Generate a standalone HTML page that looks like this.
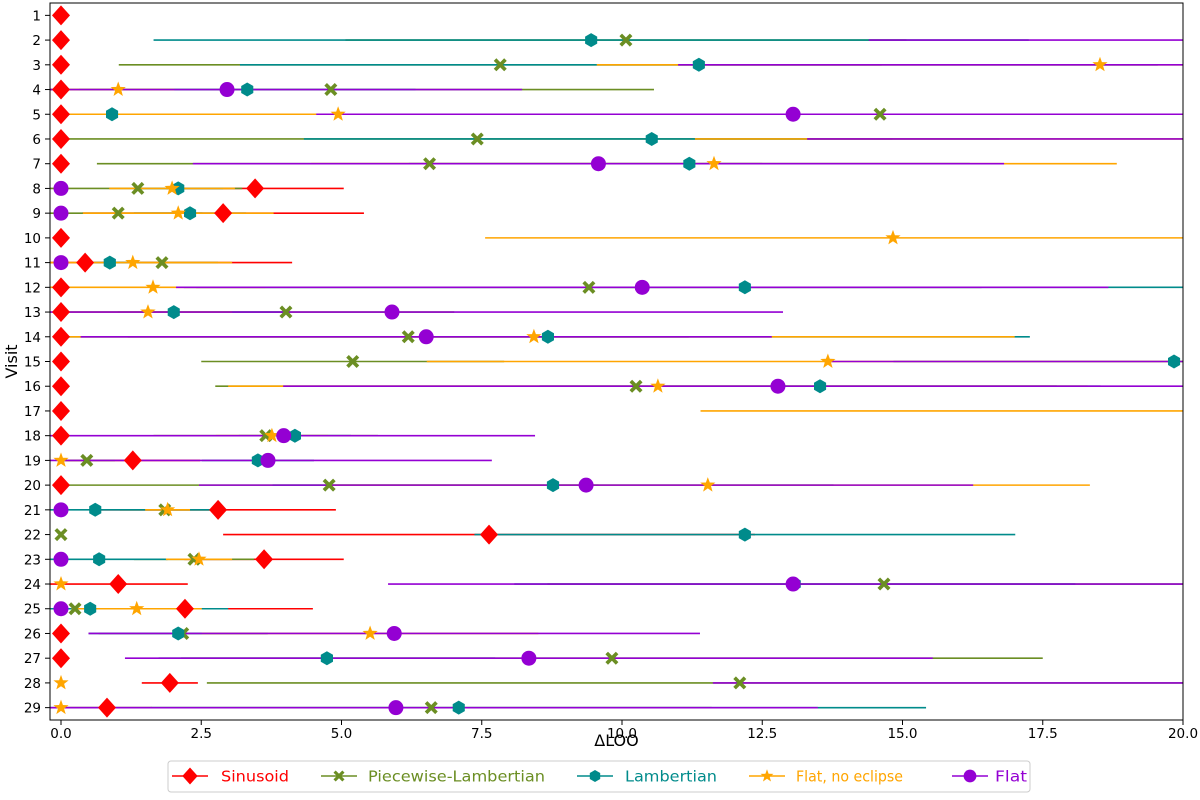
<!DOCTYPE html>
<html><head><meta charset="utf-8"><style>
body{margin:0;background:#fff;}
svg{font-family:"DejaVu Sans","Liberation Sans",sans-serif;}
</style></head><body>
<svg id="chart" width="1200" height="795" xmlns="http://www.w3.org/2000/svg"></svg>
<script>
const visits = [1,2,3,4,5,6,7,8,9,10,11,12,13,14,15,16,17,18,19,20,21,22,23,24,25,26,27,28,29];
const xTicks = [0,2.5,5,7.5,10,12.5,15,17.5,20];
const xTickLabels = ["0.0","2.5","5.0","7.5","10.0","12.5","15.0","17.5","20.0"];
const seriesNames = ["Sinusoid","Piecewise-Lambertian","Lambertian","Flat, no eclipse","Flat"];
const sinV = [0,0,0,0,0,0,0,3.46,2.89,0,0.43,0,0,0,0,0,0,0,1.28,0,2.8,7.63,3.62,1.02,2.21,0,0,1.94,0.82];
const sinE = [0,0,0,0,0,0,0,1.58,2.51,0,3.69,0,0,0,0,0,0,0,1.2,0,2.1,4.74,1.42,1.24,2.28,0,0,0.5,0.8];
const plV = [null,10.07,7.83,4.81,14.6,7.42,6.57,1.37,1.02,null,1.8,9.41,4.01,6.19,5.2,10.25,null,3.65,0.46,4.78,1.85,0,2.37,14.67,0.25,2.17,9.82,12.1,6.6];
const plE = [0,5,6.8,5.76,5,7.4,5.93,1.86,1.5,0,1,7,3,5,2.7,7.5,0,2,0.5,4.8,0.8,0,1.07,6,0.3,1.5,7.68,9.5,5];
const lamV = [null,9.45,11.37,3.32,0.91,10.53,11.2,2.09,2.3,null,0.87,12.19,2.01,8.68,19.84,13.53,null,4.17,3.51,8.77,0.61,12.19,0.68,13.08,0.52,2.09,4.74,null,7.09];
const lamE = [0,7.8,8.18,3,1,6.2,5,0.8,1,0,0.5,10,2,8.59,5,5,0,1,1,5,2.14,4.82,1.22,5,2.46,1.6,3,0,8.33];
const fneV = [null,25,18.52,1.02,4.94,20.5,11.64,1.98,2.09,14.83,1.28,1.64,1.55,8.43,13.67,10.64,22,3.76,0,11.53,1.9,null,2.46,0,1.35,5.51,null,0,0];
const fneE = [0,5,8.97,1,4.8,9.2,7.18,1.12,1.7,7.27,1.77,2,1.5,8.57,7.15,7.66,10.6,1,0,6.81,0.4,0,0.59,0,1.16,3,0,0,0];
const flatV = [null,24,25,2.96,13.05,25,9.58,0,0,null,0,10.36,5.9,6.51,25,12.78,null,3.97,3.69,9.36,0,null,0,13.05,0,5.94,8.34,25,5.97];
const flatE = [0,9.6,14,5.26,8.5,11.7,7.23,0,0,0,0,8.31,6.97,6.16,11.33,8.82,0,4.48,3.99,6.9,0,0,0,7.22,0,5.45,7.2,13.38,7.52];

const NS="http://www.w3.org/2000/svg";
const svg=document.getElementById('chart');
const L=50,R=1183,T=3,B=720;
const xMin=-0.196,xMax=20,yMin=0.5,yMax=29.5;
function X(v){return L+(v-xMin)/(xMax-xMin)*(R-L);}
function Y(v){return T+(v-yMin)/(yMax-yMin)*(B-T);}
function mk(tag,attrs,parent){const e=document.createElementNS(NS,tag);for(const k in attrs)e.setAttribute(k,attrs[k]);(parent||svg).appendChild(e);return e;}

const defs=mk('defs',{});
const cp=mk('clipPath',{id:'clip'},defs);
mk('rect',{x:L,y:T,width:R-L,height:B-T},cp);
const plot=mk('g',{'clip-path':'url(#clip)'});



function marker(kind,cx,cy,color,parent,sc){
  sc=sc||1;
  let e;
  if(kind==='diamond'){e=mk('polygon',{points:`${cx},${cy-10*sc} ${cx+9*sc},${cy} ${cx},${cy+10*sc} ${cx-9*sc},${cy}`,fill:color},parent);}
  else if(kind==='x'){const s=6.5*sc,w=2.6*sc;
    e=mk('path',{d:`M${cx-s} ${cy-s+w}L${cx-s+w} ${cy-s}L${cx} ${cy-w}L${cx+s-w} ${cy-s}L${cx+s} ${cy-s+w}L${cx+w} ${cy}L${cx+s} ${cy+s-w}L${cx+s-w} ${cy+s}L${cx} ${cy+w}L${cx-s+w} ${cy+s}L${cx-s} ${cy+s-w}L${cx-w} ${cy}Z`,fill:color},parent);}
  else if(kind==='hex'){let p=[];for(let i=0;i<6;i++){const a=Math.PI/3*i+Math.PI/6;p.push((cx+7*sc*Math.cos(a)).toFixed(1)+','+(cy+7*sc*Math.sin(a)).toFixed(1));}
    e=mk('polygon',{points:p.join(' '),fill:color},parent);}
  else if(kind==='star'){let p=[];for(let i=0;i<10;i++){const r=(i%2?3.3:8)*sc,a=-Math.PI/2+Math.PI/5*i;p.push((cx+r*Math.cos(a)).toFixed(1)+','+(cy+r*Math.sin(a)).toFixed(1));}
    e=mk('polygon',{points:p.join(' '),fill:color},parent);}
  else {e=mk('circle',{cx:cx,cy:cy,r:7.5*sc,fill:color},parent);}
  return e;
}

const series=[
  {name:'sinusoid',v:sinV,e:sinE,c:'#ff0000',m:'diamond'},
  {name:'piecewise-lambertian',v:plV,e:plE,c:'#6b8e23',m:'x'},
  {name:'lambertian',v:lamV,e:lamE,c:'#008b8b',m:'hex'},
  {name:'flat-no-eclipse',v:fneV,e:fneE,c:'#ffa500',m:'star'},
  {name:'flat',v:flatV,e:flatE,c:'#9400d3',m:'circle'}
];
const lineLayer=mk('g',{},plot);


const markLayer=mk('g',{},plot);


series.forEach(s=>{
  const gl=mk('g',{},lineLayer);
  
  
  const gm=mk('g',{},markLayer);
  
  
  visits.forEach((vis,i)=>{
    const v=s.v[i]; if(v===null) return;
    const y=Y(vis);
    if(s.e[i]>0){
      const ln=mk('line',{x1:X(v-s.e[i]),x2:X(v+s.e[i]),y1:y,y2:y,stroke:s.c,'stroke-width':1.6},gl);
      
      
    }
    const mEl=marker(s.m,X(v),y,s.c,gm);
    
    
  });
});

const frame=mk('rect',{x:L,y:T,width:R-L,height:B-T,fill:'none',stroke:'#000','stroke-width':1});


visits.forEach(v=>{
  const y=Y(v);
  mk('line',{x1:L-5,x2:L,y1:y,y2:y,stroke:'#000','stroke-width':1});
  const t=mk('text',{x:L-9,y:y+5,'text-anchor':'end','font-size':13.5});
  t.textContent=v;
  
  
});
xTicks.forEach((v,i)=>{
  const x=X(v);
  mk('line',{x1:x,x2:x,y1:B,y2:B+5,stroke:'#000','stroke-width':1});
  const t=mk('text',{x:x,y:B+18,'text-anchor':'middle','font-size':13.5});
  t.textContent=xTickLabels[i];
  
  
});
const xt=mk('text',{x:(L+R)/2,y:B+26,'text-anchor':'middle','font-size':16});
xt.textContent='ΔLOO';


const yt=mk('text',{x:17,y:(T+B)/2,'text-anchor':'middle','font-size':16,transform:`rotate(-90 17 ${(T+B)/2})`});
yt.textContent='Visit';



const lg=mk('g',{});


mk('rect',{x:168,y:761,width:862,height:31,rx:3,fill:'#fff',stroke:'#ccc'},lg);
const legLineX=[172,321,577,749,952];
const legTextX=[221,368,625,796,995];
const legTextW=[68,177,92,107,32];
series.forEach((s,i)=>{
  const g=mk('g',{},lg);
  
  
  const x=legLineX[i],y=776;
  mk('line',{x1:x,x2:x+36,y1:y,y2:y,stroke:s.c,'stroke-width':1.6},g);
  marker(s.m,x+18,y,s.c,g,0.85);
  const t=mk('text',{x:legTextX[i],y:y+5.5,'font-size':15,fill:s.c,textLength:legTextW[i],lengthAdjust:'spacingAndGlyphs'},g);
  t.textContent=seriesNames[i];
});
</script>
</body></html>
